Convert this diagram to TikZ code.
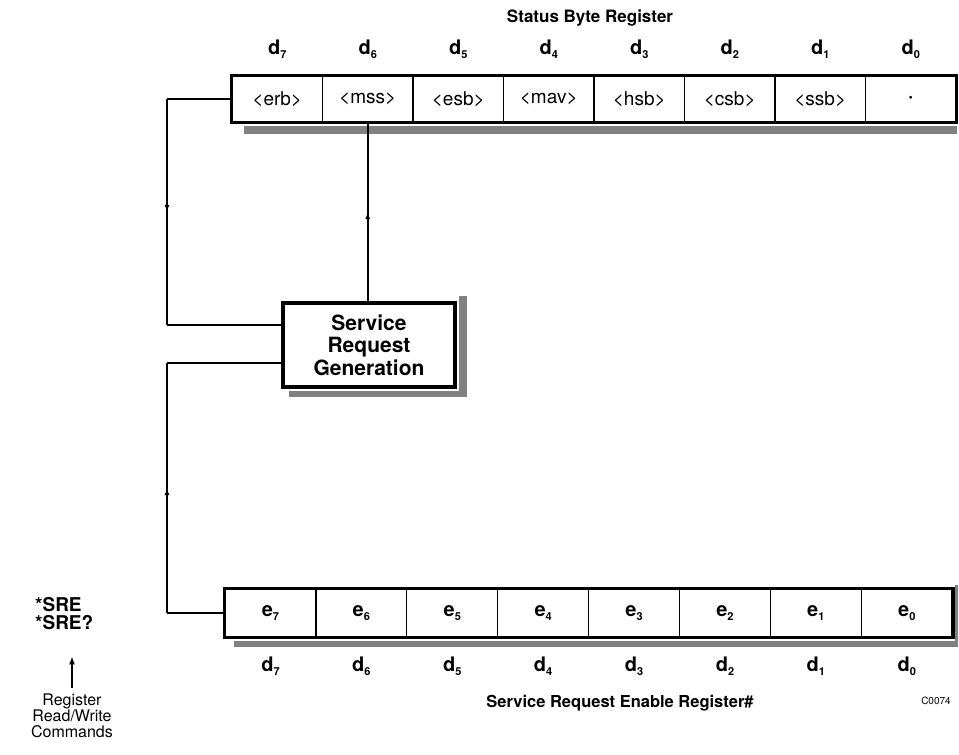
\documentclass[tikz,border=0pt]{standalone}
\usepackage{fontspec}
\setmainfont{TeX Gyre Heros}
\usetikzlibrary{arrows.meta, positioning, decorations.markings}

\newcommand{\bitlab}[2]{#1\raisebox{-0.35ex}{\fontsize{11}{11}\selectfont #2}}

\tikzset{
  cell/.style={draw, line width=1.2pt, minimum width=90.5pt, minimum height=46pt, inner sep=0pt, font=\fontsize{19}{19}\selectfont},
  regbox/.style={line width=3.5pt},
  shade/.style={fill=black!50},
  wire/.style={line width=1.8pt},
  midarrow/.style={postaction={decorate}, decoration={markings, mark=at position 0.5 with {\arrow{Latex[length=7pt,width=5pt]}}}},
  bitname/.style={font=\bfseries\fontsize{20}{20}\selectfont, inner sep=0pt},
  title/.style={font=\bfseries\fontsize{17}{17}\selectfont},
}

\begin{document}
\begin{tikzpicture}[x=1pt, y=-1pt]
	\useasboundingbox (0,0) rectangle (959,755);
	% status byte register
	\node[title] (sbtitle) at (590,18) {Status Byte Register};
	\foreach \bit/\txt in {7/{<erb>},6/{<mss>},5/{<esb>},4/{<mav>},3/{<hsb>},2/{<csb>},1/{<ssb>},0/{\textbf{·}}}{
		\node[cell] (sb\bit) at ({277.25+90.5*(7-\bit)}, 99) {\txt};
		\node[bitname, above=17pt of sb\bit] {\bitlab{d}{\bit}};
	}
	\fill[shade] ([xshift=13pt,yshift=-3pt]sb7.south west) rectangle ([yshift=-11pt]sb0.south east);
	\draw[regbox] (sb7.north west) rectangle (sb0.south east);

	% service request enable register
	\foreach \bit in {7,...,0}{
		\node[cell, minimum width=90.9pt, minimum height=48pt, font=\bfseries\fontsize{20}{20}\selectfont] (en\bit) at ({270.45+90.9*(7-\bit)}, 613) {\bitlab{e}{\bit}};
		\node[bitname, below=19pt of en\bit] {\bitlab{d}{\bit}};
	}
	\fill[shade] ([xshift=10pt,yshift=-3pt]en7.south west) rectangle ([xshift=5pt,yshift=-9pt]en0.south east);
	\fill[shade] ([xshift=2pt,yshift=3pt]en0.north east) rectangle ([xshift=5pt,yshift=-9pt]en0.south east);
	\draw[regbox] (en7.north west) rectangle (en0.south east);
	\node[title, font=\bfseries\fontsize{16.5}{16.5}\selectfont] (entitle) at (620,703) {Service Request Enable Register\#};
	\node[font=\fontsize{10}{10}\selectfont] (code) at (936,701) {C0074};

	% service request generation
	\node[draw, regbox, minimum width=172pt, minimum height=84pt, align=center, font=\bfseries\fontsize{21}{22.5}\selectfont] (srg) at (369,345) {Service\\Request\\Generation};
	\fill[shade] ([xshift=2pt,yshift=5pt]srg.north east) rectangle ([xshift=10pt,yshift=-8pt]srg.south east);
	\fill[shade] ([xshift=8pt,yshift=-2pt]srg.south west) rectangle ([xshift=10pt,yshift=-8pt]srg.south east);
	\coordinate (upin) at ([yshift=20pt]srg.west);
	\coordinate (lowin) at ([yshift=-18pt]srg.west);
	\coordinate (lbus) at (167,0);

	% connectors
	\draw[wire] (sb7.west) -- (sb7.west -| lbus);
	\draw[wire, midarrow] (sb7.west -| lbus) -- (upin -| lbus);
	\draw[wire] (upin -| lbus) -- (upin);
	\draw[wire, midarrow] (srg.north -| sb6.south) -- (sb6.south);
	\draw[wire] (lowin) -- (lowin -| lbus);
	\draw[wire, midarrow] (en7.west -| lbus) -- (lowin -| lbus);
	\draw[wire] (en7.west -| lbus) -- (en7.west);

	% register commands
	\node[anchor=west, align=left, font=\bfseries\fontsize{19}{18}\selectfont, inner sep=0pt] (sre) at (35,614) {*SRE\\*SRE?};
	\node[align=center, font=\fontsize{16}{16}\selectfont, inner sep=0pt] (rw) at (72,716) {Register\\Read/Write\\Commands};
	\draw[line width=1.5pt, -{Latex[length=8pt,width=6pt]}, shorten <=6pt, shorten >=26pt] (rw.north) -- (rw.north |- sre.south);
\end{tikzpicture}
\end{document}
